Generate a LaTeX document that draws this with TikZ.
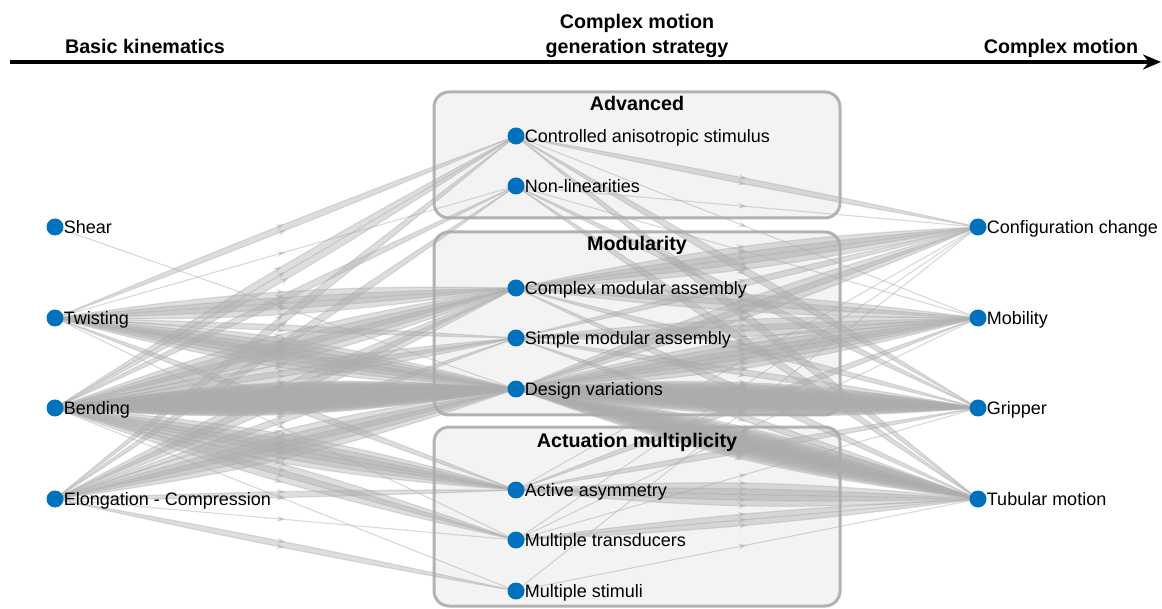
\documentclass[tikz,border=0pt]{standalone}
\usepackage{fontspec}
\setmainfont{Liberation Sans}
\usetikzlibrary{arrows.meta,decorations.markings,positioning}
\definecolor{dotblue}{RGB}{0,114,189}
\definecolor{linkgray}{RGB}{172,172,172}
\definecolor{boxfill}{RGB}{243,243,243}
\definecolor{boxline}{RGB}{178,178,178}
\pgfdeclarelayer{bg}
\pgfdeclarelayer{links}
\pgfsetlayers{bg,links,main}
\tikzset{
  vtx/.style={circle, fill=dotblue, inner sep=0pt, minimum size=17pt},
  lbl/.style={font=\fontsize{18}{20}\selectfont, inner sep=0pt, text height=13pt, text depth=0pt},
  ttl/.style={font=\fontsize{19.7}{22}\selectfont\bfseries, inner sep=0pt},
  grp/.style={draw=boxline, fill=boxfill, line width=3pt, rounded corners=15pt},
  link/.style={draw=linkgray, fill=linkgray, opacity=0.4, line width=1.2pt,
    postaction={decorate},
    decoration={markings, mark=at position 0.5 with {\arrow{Stealth[length=9pt,width=6pt]}}}},
}
\begin{document}
\begin{tikzpicture}[x=1pt, y=-1pt]
\useasboundingbox (0,0) rectangle (1162,609);
% time axis
\coordinate (axL) at (10,62);
\coordinate (axR) at (1161,62);
\draw[line width=3.5pt, -{Stealth[length=18pt,width=15pt]}] (axL) -- (axR);
\node[ttl, anchor=base] (hkin) at (145,54) {Basic kinematics};
\node[ttl, anchor=base] (hstr1) at (637,29) {Complex motion};
\node[ttl, anchor=base] (hstr2) at (637,54) {generation strategy};
\node[ttl, anchor=base] (hmot) at (1061,54) {Complex motion};

% strategy groups
\begin{pgfonlayer}{bg}
\draw[grp] (434,92) rectangle (840,218);
\draw[grp] (434,232) rectangle (840,415);
\draw[grp] (434,427) rectangle (840,606);
\end{pgfonlayer}
\node[ttl, anchor=base] (tadv) at (637,111) {Advanced};
\node[ttl, anchor=base] (tmod) at (637,251) {Modularity};
\node[ttl, anchor=base] (tact) at (637,447) {Actuation multiplicity};

% basic kinematics
\node[vtx, label={[lbl]right:Shear}] (shear) at (55,227) {};
\node[vtx, label={[lbl]right:Twisting}] (twist) at (55,318) {};
\node[vtx, label={[lbl]right:Bending}] (bending) at (55,408) {};
\node[vtx, label={[lbl]right:Elongation - Compression}] (elong) at (55,499) {};

% strategies
\node[vtx, label={[lbl]right:Controlled anisotropic stimulus}] (ctrl) at (516,136) {};
\node[vtx, label={[lbl]right:Non-linearities}] (nonlin) at (516,186) {};
\node[vtx, label={[lbl]right:Complex modular assembly}] (cmod) at (516,288) {};
\node[vtx, label={[lbl]right:Simple modular assembly}] (smod) at (516,338) {};
\node[vtx, label={[lbl]right:Design variations}] (desv) at (516,389) {};
\node[vtx, label={[lbl]right:Active asymmetry}] (asym) at (516,490) {};
\node[vtx, label={[lbl]right:Multiple transducers}] (trans) at (516,540) {};
\node[vtx, label={[lbl]right:Multiple stimuli}] (stim) at (516,591) {};

% complex motions
\node[vtx, label={[lbl]right:Configuration change}] (config) at (978,227) {};
\node[vtx, label={[lbl]right:Mobility}] (mobil) at (978,318) {};
\node[vtx, label={[lbl]right:Gripper}] (grip) at (978,408) {};
\node[vtx, label={[lbl]right:Tubular motion}] (tube) at (978,499) {};

% links, one curve per counted case
\begin{pgfonlayer}{links}
\foreach \a/\b/\n in {shear/desv/1,
    twist/ctrl/2, twist/nonlin/1, twist/cmod/5, twist/smod/2, twist/desv/8, twist/asym/2, twist/trans/1,
    bending/ctrl/3, bending/nonlin/2, bending/cmod/6, bending/smod/4, bending/desv/32, bending/asym/7, bending/trans/4, bending/stim/1,
    elong/ctrl/2, elong/nonlin/2, elong/cmod/4, elong/smod/2, elong/desv/6, elong/asym/2, elong/trans/1, elong/stim/2,
    ctrl/config/2, ctrl/mobil/1, ctrl/grip/2, ctrl/tube/2,
    nonlin/config/1, nonlin/mobil/1, nonlin/grip/2, nonlin/tube/2,
    cmod/config/5, cmod/mobil/4, cmod/grip/2, cmod/tube/2,
    smod/config/2, smod/mobil/4, smod/grip/2, smod/tube/2,
    desv/config/4, desv/mobil/7, desv/grip/22, desv/tube/16,
    asym/config/1, asym/mobil/2, asym/grip/2, asym/tube/5,
    trans/config/1, trans/mobil/1, trans/grip/1, trans/tube/3,
    stim/config/1, stim/tube/1}{
  \pgfmathsetmacro{\stp}{min(2.4,14/\n)}
  \foreach \k in {1,...,\n}{
    \pgfmathsetmacro{\bd}{(\k-(\n+1)/2)*\stp}
    \draw[link] (\a.center) to[bend left=\bd] (\b.center);
  }
}
\end{pgfonlayer}
\end{tikzpicture}
\end{document}
